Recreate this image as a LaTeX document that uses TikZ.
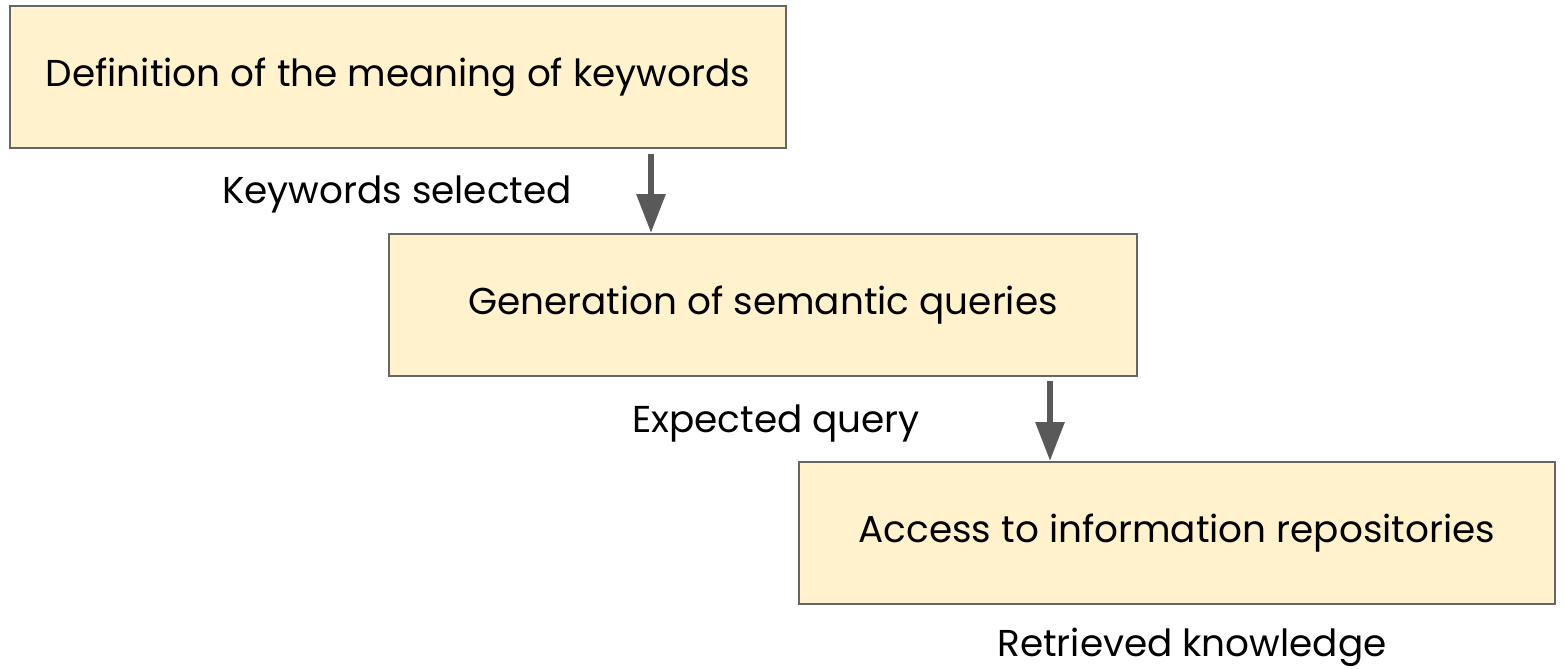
\documentclass[tikz,border=0pt]{standalone}
\usepackage{fontspec}
\setmainfont{Poppins}
\usetikzlibrary{arrows.meta}

\definecolor{boxfill}{HTML}{FFF2CC}
\definecolor{boxline}{HTML}{666666}
\definecolor{arrowgray}{HTML}{595959}

\tikzset{
  stagebox/.style={draw=boxline, line width=1pt, fill=boxfill,
    minimum height=71pt, inner sep=0pt, font=\fontsize{18.7}{22}\selectfont},
  flow/.style={draw=arrowgray, line width=3pt,
    -{Triangle[length=19.5pt,width=14pt]}},
  note/.style={font=\fontsize{18.7}{22}\selectfont}
}

\begin{document}
\begin{tikzpicture}[x=0.5pt, y=-0.5pt]
    \useasboundingbox (0,0) rectangle (1565,669);

    % stages
    \node[stagebox, minimum width=388pt] (define) at (398,77) {Definition of the meaning of keywords};
    \node[stagebox, minimum width=374pt] (generate) at (763,305) {Generation of semantic queries};
    \node[stagebox, minimum width=378pt] (access) at (1177,533) {Access to information repositories};

    % connectors
    \coordinate (d1) at ([xshift=126.5pt, yshift=-2.5pt]define.south);
    \coordinate (g1) at ([xshift=143.5pt, yshift=-2pt]generate.south);
    \draw[flow] (d1) -- (d1 |- generate.north);
    \draw[flow] (g1) -- (g1 |- access.north);

    % labels
    \node[note] (selected) at (397,194) {Keywords selected};
    \node[note] (expected) at (776,424) {Expected query};
    \node[note] (retrieved) at (1192,647) {Retrieved knowledge};
\end{tikzpicture}
\end{document}
